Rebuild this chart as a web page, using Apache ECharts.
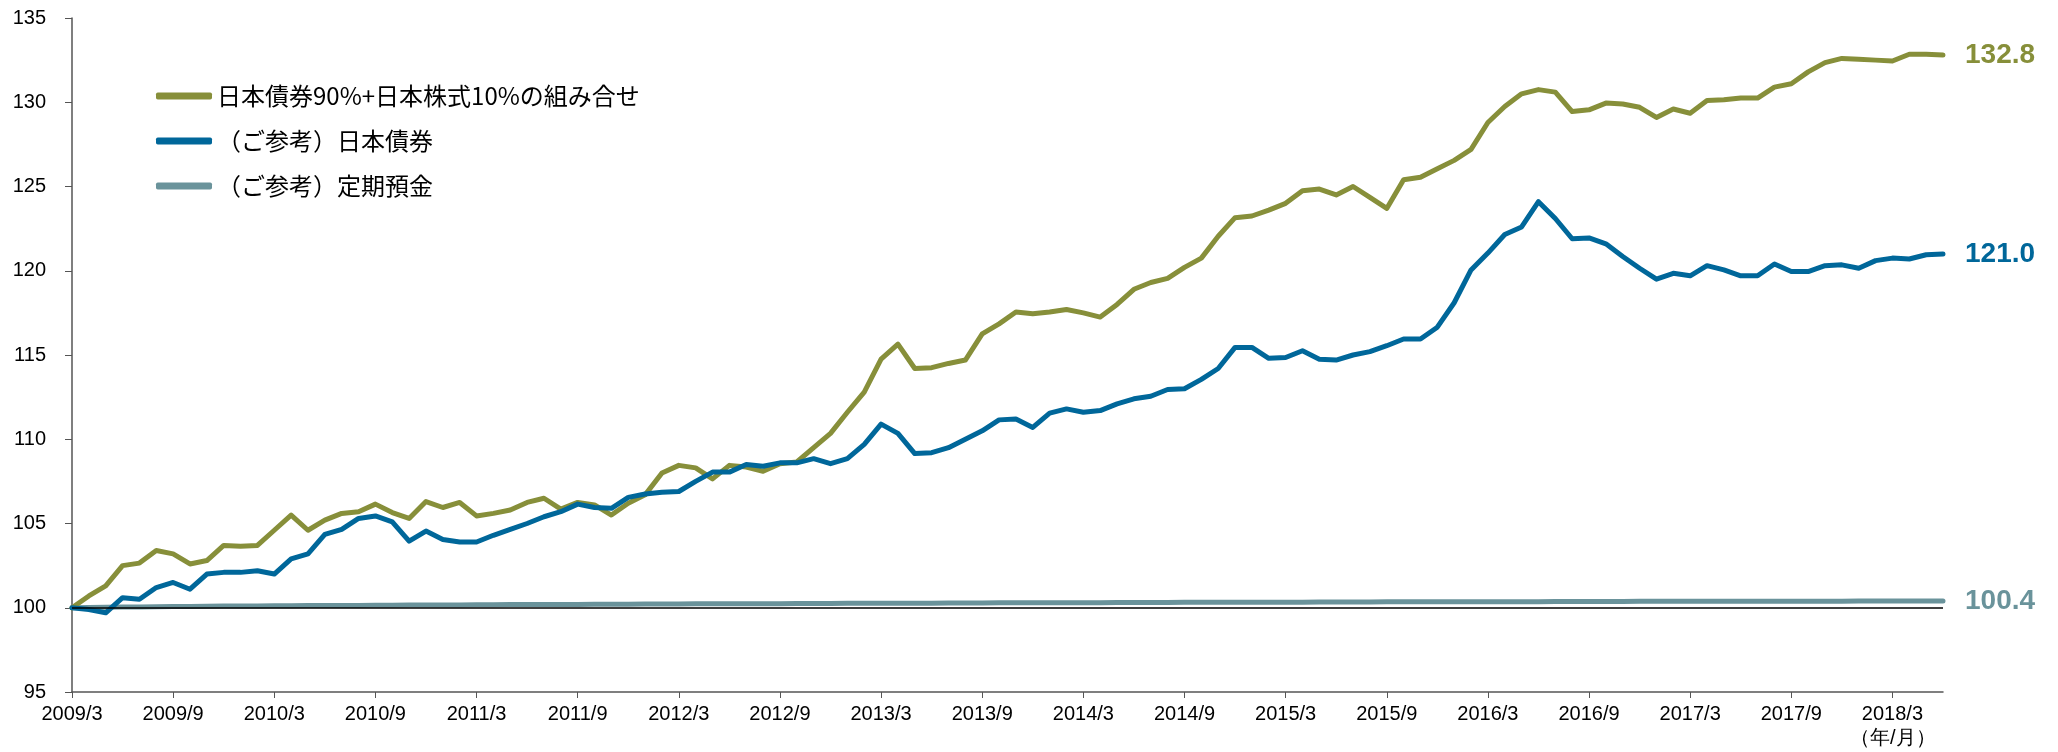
<!DOCTYPE html>
<html>
<head>
<meta charset="utf-8">
<script src="https://cdn.jsdelivr.net/npm/echarts@6/dist/echarts.min.js"></script>
<style>
  html, body { margin: 0; padding: 0; background: #fff; }
  #main { width: 2058px; height: 752px; }
</style>
</head>
<body>
<div id="main"></div>
<script>
// months from 2009/3 to 2018/6
var months = [];
for (var y = 2009; y <= 2018; y++) {
  for (var m = 1; m <= 12; m++) {
    if (y === 2009 && m < 3) continue;
    if (y === 2018 && m > 6) break;
    months.push(y + '/' + m);
  }
}

var yTicks = [95, 100, 105, 110, 115, 120, 125, 130, 135];

var mixData = [
  100.0, 100.7, 101.3, 102.5, 102.65, 103.4, 103.2, 102.6, 102.8, 103.7, 103.65, 103.7,
  104.6, 105.5, 104.6, 105.2, 105.6, 105.7, 106.15, 105.65, 105.3, 106.3, 105.95, 106.25,
  105.45, 105.6, 105.8, 106.25, 106.5, 105.85, 106.25, 106.1, 105.5, 106.2, 106.7, 108.0,
  108.45, 108.3, 107.65, 108.45, 108.35, 108.1, 108.55, 108.65, 109.5, 110.35, 111.6, 112.8,
  114.75, 115.65, 114.2, 114.25, 114.5, 114.7, 116.25, 116.85, 117.55, 117.45, 117.55, 117.7,
  117.5, 117.25, 118.0, 118.9, 119.3, 119.55, 120.2, 120.75, 122.05, 123.15, 123.25, 123.6,
  124.0, 124.75, 124.85, 124.5, 125.0, 124.35, 123.7, 125.4, 125.55, 126.05, 126.55, 127.2,
  128.8, 129.75, 130.5, 130.75, 130.6, 129.45, 129.55, 129.95, 129.9, 129.7, 129.1, 129.6,
  129.35, 130.1, 130.15, 130.25, 130.25, 130.9, 131.1, 131.8, 132.35, 132.6, 132.55, 132.5,
  132.45, 132.85, 132.85, 132.8
];

var bondData = [
  100.0, 99.9, 99.7, 100.6, 100.5, 101.2, 101.5, 101.1, 102.0, 102.1, 102.1, 102.2,
  102.0, 102.9, 103.2, 104.35, 104.65, 105.3, 105.45, 105.1, 103.95, 104.55, 104.05, 103.9,
  103.9, 104.3, 104.65, 105.0, 105.4, 105.7, 106.15, 105.95, 105.9, 106.55, 106.75, 106.85,
  106.9, 107.5, 108.05, 108.05, 108.5, 108.4, 108.6, 108.6, 108.85, 108.55, 108.85, 109.7,
  110.9, 110.35, 109.15, 109.2, 109.5, 110.0, 110.5, 111.15, 111.2, 110.7, 111.55, 111.8,
  111.6, 111.7, 112.1, 112.4, 112.55, 112.95, 113.0, 113.55, 114.2, 115.45, 115.45, 114.8,
  114.85, 115.25, 114.75, 114.7, 115.0, 115.2, 115.55, 115.95, 115.95, 116.65, 118.1, 120.05,
  121.05, 122.15, 122.6, 124.1, 123.1, 121.9, 121.95, 121.6, 120.85, 120.15, 119.5, 119.85,
  119.7, 120.3, 120.05, 119.7, 119.7, 120.4, 119.95, 119.95, 120.3, 120.35, 120.15, 120.6,
  120.75, 120.7, 120.95, 121.0
];

var depositData = [
  100.0, 100.02, 100.03, 100.04, 100.05, 100.06, 100.07, 100.08, 100.09, 100.1, 100.1, 100.11,
  100.12, 100.12, 100.13, 100.13, 100.14, 100.14, 100.15, 100.15, 100.16, 100.16, 100.17, 100.17,
  100.18, 100.18, 100.19, 100.19, 100.2, 100.2, 100.2, 100.21, 100.21, 100.21, 100.22, 100.22,
  100.22, 100.23, 100.23, 100.23, 100.24, 100.24, 100.24, 100.25, 100.25, 100.25, 100.26, 100.26,
  100.26, 100.27, 100.27, 100.27, 100.28, 100.28, 100.28, 100.29, 100.29, 100.29, 100.3, 100.3,
  100.3, 100.3, 100.31, 100.31, 100.31, 100.31, 100.32, 100.32, 100.32, 100.32, 100.33, 100.33,
  100.33, 100.33, 100.34, 100.34, 100.34, 100.34, 100.35, 100.35, 100.35, 100.35, 100.35, 100.36,
  100.36, 100.36, 100.36, 100.36, 100.37, 100.37, 100.37, 100.37, 100.37, 100.38, 100.38, 100.38,
  100.38, 100.38, 100.38, 100.39, 100.39, 100.39, 100.39, 100.39, 100.39, 100.39, 100.4, 100.4,
  100.4, 100.4, 100.4, 100.4
];

var seriesNames = ['日本債券90%+日本株式10%の組み合せ', '（ご参考）日本債券', '（ご参考）定期預金'];
var endLabels = ['132.8', '121.0', '100.4'];
var colors = ['#878F3A', '#00679A', '#6A939B'];

var jpFont = '"Noto Sans CJK JP", "Liberation Sans", sans-serif';
var numFont = '"Liberation Sans", Arial, sans-serif';

function makeSeries(i, data) {
  return {
    name: seriesNames[i],
    type: 'line',
    data: data,
    symbol: 'none',
    smooth: false,
    lineStyle: { color: colors[i], width: 5, cap: 'round', join: 'round' },
    itemStyle: { color: colors[i] },
    endLabel: {
      show: true,
      formatter: endLabels[i],
      distance: 22,
      color: colors[i],
      fontSize: 28,
      fontWeight: 'bold',
      fontFamily: numFont
    }
  };
}

var depositSeries = makeSeries(2, depositData);
depositSeries.markLine = {
  silent: true,
  symbol: 'none',
  label: { show: false },
  lineStyle: { color: '#000', width: 1.5, type: 'solid' },
  data: [{ yAxis: 100 }]
};
depositSeries.z = 1;

var chart = echarts.init(document.getElementById('main'));
chart.setOption({
  animation: false,
  backgroundColor: '#fff',
  grid: { left: 72, right: 115, top: 18, bottom: 60 },
  legend: {
    orient: 'vertical',
    left: 151,
    top: 79,
    itemGap: 21,
    itemWidth: 56,
    itemHeight: 7,
    icon: 'roundRect',
    textStyle: { fontSize: 24, color: '#000', fontFamily: jpFont },
    data: seriesNames
  },
  xAxis: {
    type: 'category',
    data: months,
    boundaryGap: false,
    axisLine: { lineStyle: { color: '#555', width: 1.5 } },
    axisTick: { interval: 5, length: 6, lineStyle: { color: '#555' } },
    axisLabel: {
      interval: 5,
      margin: 12,
      color: '#000',
      fontSize: 20,
      fontFamily: numFont
    },
    splitLine: { show: false }
  },
  yAxis: {
    type: 'value',
    min: yTicks[0],
    max: yTicks[yTicks.length - 1],
    interval: 5,
    axisLine: { show: true, lineStyle: { color: '#555', width: 1.5 } },
    axisTick: { show: true, inside: false, length: 7, lineStyle: { color: '#555' } },
    axisLabel: {
      margin: 26,
      color: '#000',
      fontSize: 20,
      fontFamily: numFont
    },
    splitLine: { show: false }
  },
  graphic: [{
    type: 'text',
    left: 1850,
    top: 728,
    style: { text: '（年/月）', fontSize: 20, fill: '#000', font: '20px ' + jpFont }
  }],
  series: [
    makeSeries(0, mixData),
    makeSeries(1, bondData),
    depositSeries
  ]
});
</script>
</body>
</html>
